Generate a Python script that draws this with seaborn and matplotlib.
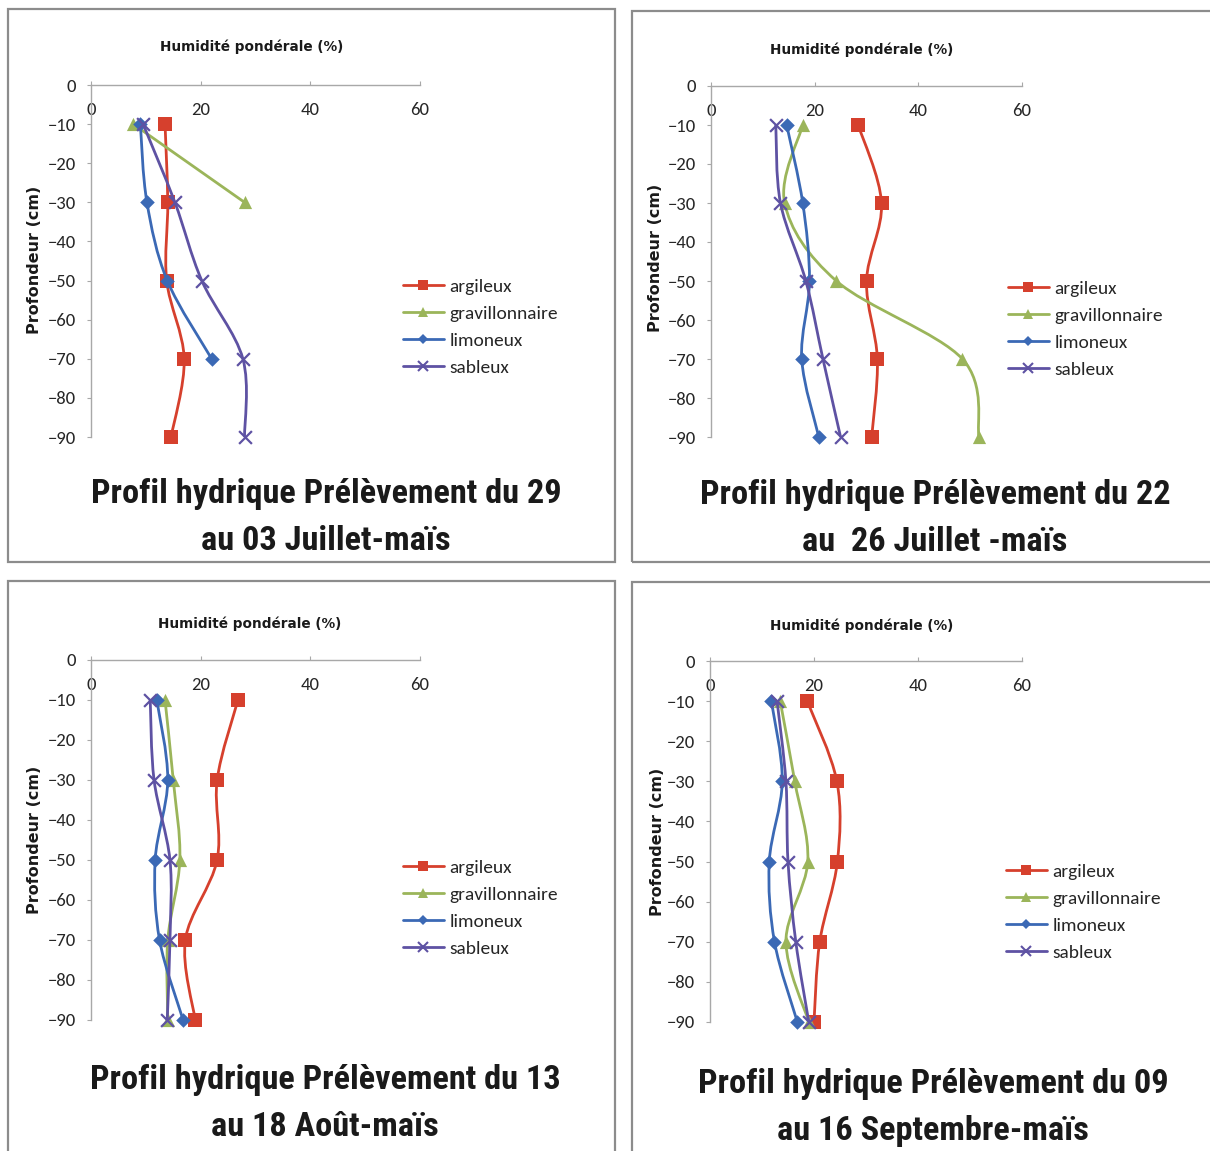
import matplotlib.pyplot as plt
import numpy as np
import pandas as pd
import seaborn as sns
from matplotlib import font_manager as fm
from matplotlib.lines import Line2D
from matplotlib.patches import PathPatch, Rectangle
from matplotlib.path import Path

# ── Style ─────────────────────────────────────────────────────────────────────
sns.set_theme(style="white")


def pick_family(candidates, weight):
    """First installed family that also has the wanted weight."""
    avail = {}
    for f in fm.fontManager.ttflist:
        w = f.weight if isinstance(f.weight, int) else 700 if "bold" in str(f.weight) else 400
        avail.setdefault(f.name, set()).add(w)
    for c in candidates:
        if c in avail and any(abs(w - weight) <= 100 for w in avail[c]):
            return c
    return "DejaVu Sans"


FONT_REG = pick_family(["Carlito", "Lato", "Liberation Sans"], 400)
# the scanned titles are a little taller than Calibri for their width
FONT_BOLD = pick_family(["Roboto Condensed", "Fira Sans Condensed", "Asap Condensed",
                         "Lato", "Carlito"], 700)
plt.rcParams["font.family"] = [FONT_REG, "DejaVu Sans"]

W, H = 1210, 1151

# ── Data ──────────────────────────────────────────────────────────────────────
DEPTH = [-10, -30, -50, -70, -90]
SOLS = ["argileux", "gravillonnaire", "limoneux", "sableux"]
nan = np.nan

# Prélèvement du 29 au 03 Juillet
p1_argileux = [13.5, 14.0, 13.8, 17.0, 14.6]
p1_gravillonnaire = [7.7, 28.0, nan, nan, nan]
p1_limoneux = [9.0, 10.2, 13.9, 22.0, nan]
p1_sableux = [9.5, 15.3, 20.2, 27.7, 28.0]

# Prélèvement du 22 au 26 Juillet
p2_argileux = [28.4, 32.9, 30.0, 32.1, 31.0]
p2_gravillonnaire = [17.7, 14.2, 24.2, 48.5, 51.7]
p2_limoneux = [14.6, 17.7, 19.0, 17.5, 20.8]
p2_sableux = [12.5, 13.4, 18.3, 21.6, 25.0]

# Prélèvement du 13 au 18 Août
p3_argileux = [26.8, 23.0, 23.0, 17.2, 19.0]
p3_gravillonnaire = [13.5, 15.0, 16.2, 14.0, 14.0]
p3_limoneux = [12.0, 14.0, 11.7, 12.5, 16.8]
p3_sableux = [10.8, 11.5, 14.4, 14.4, 13.9]

# Prélèvement du 09 au 16 Septembre
p4_argileux = [18.7, 24.4, 24.5, 21.1, 20.0]
p4_gravillonnaire = [13.5, 16.3, 18.8, 14.6, 19.0]
p4_limoneux = [11.8, 13.9, 11.4, 12.4, 16.8]
p4_sableux = [12.9, 14.6, 15.0, 16.5, 19.0]

TITLES = [
    "Profil hydrique Prélèvement du 29\nau 03 Juillet-maïs",
    "Profil hydrique Prélèvement du 22\nau  26 Juillet -maïs",
    "Profil hydrique Prélèvement du 13\nau 18 Août-maïs",
    "Profil hydrique Prélèvement du 09\nau 16 Septembre-maïs",
]
X_LABEL = "Humidité pondérale (%)"
Y_LABEL = "Profondeur (cm)"
X_TICKS = [0, 20, 40, 60]
Y_TICKS = [0, -10, -20, -30, -40, -50, -60, -70, -80, -90]

panels = [
    [p1_argileux, p1_gravillonnaire, p1_limoneux, p1_sableux],
    [p2_argileux, p2_gravillonnaire, p2_limoneux, p2_sableux],
    [p3_argileux, p3_gravillonnaire, p3_limoneux, p3_sableux],
    [p4_argileux, p4_gravillonnaire, p4_limoneux, p4_sableux],
]

# ── Look ──────────────────────────────────────────────────────────────────────
COLORS = {"argileux": "#d6402d", "gravillonnaire": "#9bb55a",
          "limoneux": "#3b69b5", "sableux": "#5e52a3"}
MARKERS = {"argileux": "s", "gravillonnaire": "^", "limoneux": "D", "sableux": "x"}
SIZES = {"argileux": 95, "gravillonnaire": 90, "limoneux": 55, "sableux": 85}
AXIS_GREY = "#a8a8a8"
TITLE_PITCH = 47  # px between the two title baselines

# pixel layout: plot box, axis-title centre, y-label centre,
# title (centre x, first baseline y), legend anchor
LAYOUT = [
    dict(box=(91, 85, 420, 437), xt=(252, 47), yl=(35, 260), ti=(326, 503), lg=(403, 327)),
    dict(box=(711, 86, 1022, 437), xt=(862, 50), yl=(655, 258), ti=(935, 504), lg=(1008, 329)),
    dict(box=(91, 660, 420, 1020), xt=(250, 624), yl=(35, 840), ti=(325, 1089), lg=(403, 908)),
    dict(box=(710, 661, 1022, 1022), xt=(862, 626), yl=(657, 842), ti=(933, 1093), lg=(1006, 912)),
]
FRAMES = [(8, 9, 615, 562), (632, 11, 1214, 562), (8, 581, 615, 1156), (632, 582, 1214, 1156)]


def fx(px):
    return px / W


def fy(py):
    return 1 - py / H


def smooth_path(x, y):
    """Excel-like smoothed line: cubic Bezier through the points."""
    pts = np.column_stack([x, y])
    n = len(pts)
    verts, codes = [pts[0]], [Path.MOVETO]
    for i in range(n - 1):
        p0, p1 = pts[max(i - 1, 0)], pts[i]
        p2, p3 = pts[i + 1], pts[min(i + 2, n - 1)]
        verts += [p1 + (p2 - p0) / 6, p2 - (p3 - p1) / 6, p2]
        codes += [Path.CURVE4] * 3
    return Path(verts, codes)


fig = plt.figure(figsize=(W / 100, H / 100), dpi=100)
fig.patch.set_facecolor("white")
renderer = fig.canvas.get_renderer()


def fit_size(text, target_px, **kw):
    """Font size that makes `text` about target_px wide."""
    t = fig.text(0, 0, text, fontsize=20, **kw)
    w = t.get_window_extent(renderer=renderer).width
    t.remove()
    return 20 * target_px / w


TITLE_SIZE = fit_size("Profil hydrique Prélèvement du 29", 470, family=FONT_BOLD, fontweight="bold")
LEGEND_SIZE = fit_size("gravillonnaire", 108, family=FONT_REG)
TICK_SIZE = fit_size("20", 19, family=FONT_REG)
XT_SIZE = fit_size(X_LABEL, 183, family="DejaVu Sans", fontweight="bold")
YL_SIZE = fit_size(Y_LABEL, 148, family="DejaVu Sans", fontweight="bold")

for x0, y0, x1, y1 in FRAMES:
    fig.add_artist(Rectangle((fx(x0), fy(y1)), fx(x1 - x0), (y1 - y0) / H,
                             transform=fig.transFigure, fill=False,
                             edgecolor="#8c8c8c", lw=1.6))

for series, title, lay in zip(panels, TITLES, LAYOUT):
    x0, y0, x1, y1 = lay["box"]
    ax = fig.add_axes([fx(x0), fy(y1), fx(x1 - x0), (y1 - y0) / H])
    ax.set_facecolor("none")

    long = pd.DataFrame({
        "sol": np.repeat(SOLS, len(DEPTH)),
        "profondeur": DEPTH * len(SOLS),
        "humidite": np.concatenate(series),
    }).dropna()

    for k, sol in enumerate(SOLS):
        d = long[long["sol"] == sol]
        ax.add_patch(PathPatch(smooth_path(d["humidite"].values, d["profondeur"].values),
                               fill=False, edgecolor=COLORS[sol], lw=2.0,
                               zorder=2 + 2 * k, clip_on=False))
        sns.scatterplot(data=d, x="humidite", y="profondeur", ax=ax,
                        marker=MARKERS[sol], color=COLORS[sol], s=SIZES[sol],
                        linewidth=1.6 if sol == "sableux" else 0,
                        zorder=3 + 2 * k, legend=False, clip_on=False)

    ax.set_xlim(0, 60)
    ax.set_ylim(-90, 0)
    ax.set_xticks(X_TICKS)
    ax.set_yticks(Y_TICKS)
    ax.set_xlabel("")
    ax.set_ylabel("")
    for side in ["right", "bottom"]:
        ax.spines[side].set_visible(False)
    for side in ["top", "left"]:
        ax.spines[side].set_color(AXIS_GREY)
        ax.spines[side].set_linewidth(1.0)
    ax.tick_params(axis="x", top=True, labeltop=True, bottom=False, labelbottom=False,
                   direction="out", length=3, width=0.8, color=AXIS_GREY,
                   pad=-27, labelsize=TICK_SIZE)
    ax.tick_params(axis="y", left=True, direction="out", length=3, width=0.8,
                   color=AXIS_GREY, pad=8, labelsize=TICK_SIZE)

    fig.text(fx(lay["xt"][0]), fy(lay["xt"][1]), X_LABEL,
             ha="center", va="center", fontsize=XT_SIZE, fontweight="bold",
             family="DejaVu Sans", color="#1a1a1a")
    fig.text(fx(lay["yl"][0]), fy(lay["yl"][1]), Y_LABEL,
             ha="center", va="center", rotation=90, fontsize=YL_SIZE,
             fontweight="bold", family="DejaVu Sans", color="#1a1a1a")
    for j, line in enumerate(title.split("\n")):
        fig.text(fx(lay["ti"][0]), fy(lay["ti"][1] + j * TITLE_PITCH), line,
                 ha="center", va="baseline", fontsize=TITLE_SIZE,
                 fontweight="bold", family=FONT_BOLD, color="#1a1a1a")

    handles = [Line2D([], [], color=COLORS[s], lw=2.0, marker=MARKERS[s],
                      markersize=7 if s != "limoneux" else 5.5,
                      markeredgewidth=1.5 if s == "sableux" else 0)
               for s in SOLS]
    ax.legend(handles, SOLS, loc="center left",
              bbox_to_anchor=(fx(lay["lg"][0]), fy(lay["lg"][1])),
              bbox_transform=fig.transFigure, frameon=False, fontsize=LEGEND_SIZE,
              handlelength=2.1, handletextpad=0.3, labelspacing=0.55,
              borderpad=0, borderaxespad=0)

fig.savefig("out.png", dpi=100)
